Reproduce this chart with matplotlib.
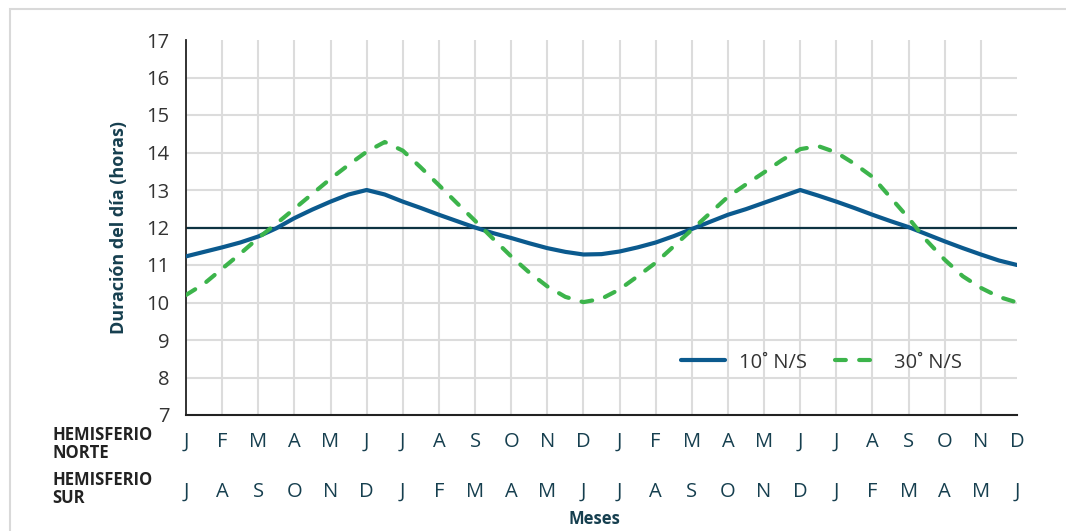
import numpy as np
import matplotlib.pyplot as plt
from matplotlib.patches import Rectangle
from matplotlib.lines import Line2D

plt.rcParams['font.family'] = ['Open Sans', 'DejaVu Sans']

# month labels for each hemisphere (two years)
norte = ["J", "F", "M", "A", "M", "J", "J", "A", "S", "O", "N", "D"] * 2
sur = ["J", "A", "S", "O", "N", "D", "J", "F", "M", "A", "M", "J"] * 2

# 10 deg N/S, read every half month
x10 = np.arange(0, 23.5, 0.5)
dur10 = [11.23, 11.35, 11.47, 11.6, 11.76, 11.98, 12.25, 12.48, 12.69, 12.88, 13.0, 12.88,
         12.69, 12.52, 12.34, 12.17, 12.0, 11.85, 11.72, 11.58, 11.45, 11.35, 11.28, 11.29,
         11.36, 11.47, 11.6, 11.77, 11.96, 12.15, 12.34, 12.49, 12.66, 12.83, 13.0, 12.85,
         12.69, 12.52, 12.34, 12.17, 12.01, 11.82, 11.63, 11.45, 11.28, 11.12, 11.0]

# 30 deg N/S, read every half month
x30 = np.arange(0, 23.5, 0.5)
dur30 = [10.2, 10.5, 10.9, 11.3, 11.72, 12.1, 12.5, 12.9, 13.3, 13.67, 14.02, 14.28,
         14.05, 13.6, 13.13, 12.65, 12.18, 11.7, 11.23, 10.8, 10.43, 10.15, 10.01, 10.1,
         10.35, 10.7, 11.06, 11.5, 11.94, 12.38, 12.82, 13.15, 13.47, 13.8, 14.09, 14.17,
         14.0, 13.7, 13.35, 12.8, 12.25, 11.65, 11.14, 10.7, 10.39, 10.15, 10.0]

blue = "#0b5a8e"
green = "#3cb44b"
teal = "#163f4f"
gray_txt = "#333333"

fig = plt.figure(figsize=(10.66, 5.31), dpi=100)
fig.patches.append(Rectangle((10 / 1066, -0.1), 1.2, 1 - 9 / 531 + 0.1, transform=fig.transFigure,
                             fill=False, edgecolor="#d9d9d9", linewidth=1.5))
ax = fig.add_axes([186 / 1066, 1 - 415 / 531, (1017 - 186) / 1066, (415 - 40) / 531])

ax.set_xlim(0, 23)
ax.set_ylim(7, 17)

# grid
for xv in range(1, 23):
    ax.axvline(xv, color="#dcdcdc", lw=1.5, zorder=0)
for yv in range(8, 17):
    ax.axhline(yv, color="#dcdcdc", lw=1.5, zorder=0)
ax.axhline(12, color="#0d3342", lw=1.6, zorder=1)

ax.plot(x10, dur10, color=blue, lw=3, solid_capstyle="round", solid_joinstyle="round", zorder=3)
ax.plot(x30, dur30, color=green, lw=3, linestyle=(0, (2.6, 3.2)), dash_capstyle="round", zorder=3)

for s in ["top", "right"]:
    ax.spines[s].set_visible(False)
ax.spines["left"].set_color("#222222")
ax.spines["bottom"].set_color("#222222")
ax.spines["left"].set_linewidth(1.3)
ax.spines["bottom"].set_linewidth(1.5)

ax.set_yticks(range(7, 18))
ax.tick_params(axis="y", length=0, pad=12, labelsize=14.5, labelcolor=gray_txt)
ax.set_xticks(range(24))
ax.set_xticklabels(norte)
ax.tick_params(axis="x", length=0, pad=12, labelsize=14.5, labelcolor=teal)
for xv, lab in zip(range(24), sur):
    ax.text(xv, -0.205, lab, transform=ax.get_xaxis_transform(), ha="center", va="center",
            fontsize=14.5, color=teal)

fig.text(52 / 1066, 1 - 444 / 531, "HEMISFERIO\nNORTE", ha="left", va="center",
         fontsize=12, fontweight="bold", color="#222222", linespacing=1.0)
fig.text(52 / 1066, 1 - 489 / 531, "HEMISFERIO\nSUR", ha="left", va="center",
         fontsize=12, fontweight="bold", color="#222222", linespacing=1.0)

ax.set_ylabel("Duración del día (horas)", fontsize=13, fontweight="bold", color=teal)
ax.yaxis.set_label_coords((128 - 186) / 831, 0.5)
fig.text(594 / 1066, 1 - 519 / 531, "Meses", ha="center", va="center",
         fontsize=12, fontweight="bold", color=teal)

handles = [Line2D([], [], color=blue, lw=3, solid_capstyle="round"),
           Line2D([], [], color=green, lw=3, linestyle=(0, (2.6, 3.2)), dash_capstyle="round")]
ax.legend(handles, ["10˚ N/S", "30˚ N/S"], ncol=2, frameon=False, fontsize=14.5,
          labelcolor=gray_txt, handlelength=2.2, columnspacing=1.4, handletextpad=0.7,
          loc="center", bbox_to_anchor=((821 - 186) / 831, 0.14))

fig.savefig("out.png", dpi=100)
